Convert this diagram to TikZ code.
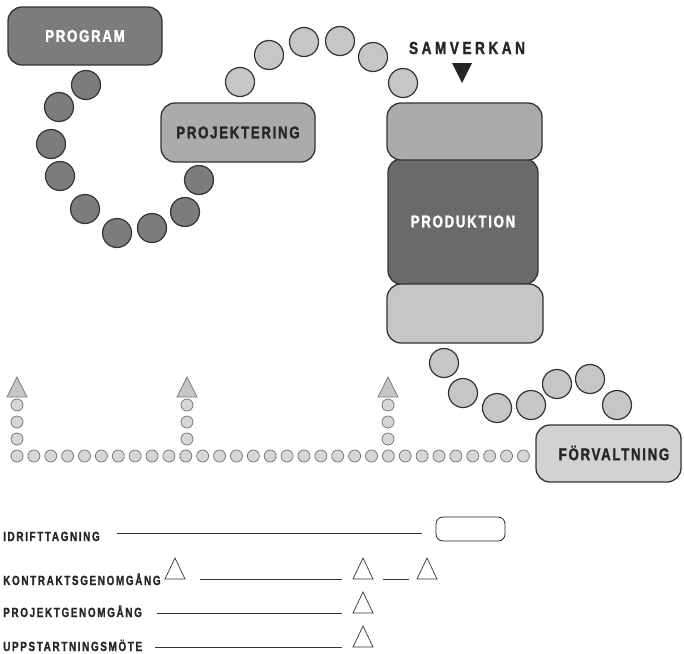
\documentclass[tikz,border=0pt]{standalone}
\usepackage{fontspec}
\newfontfamily\labf{Liberation Sans}[FakeStretch=0.78, LetterSpace=10, BoldFeatures={FakeBold=1.5}]
\newfontfamily\samf{Liberation Sans}[FakeStretch=0.78, LetterSpace=20, BoldFeatures={FakeBold=1.5}]
\newfontfamily\legf{Liberation Sans}[FakeStretch=0.75, LetterSpace=12, BoldFeatures={FakeBold=1.2}]
\usetikzlibrary{calc}
\definecolor{edge}{HTML}{333333}
\definecolor{darkfill}{HTML}{7C7C7C}
\definecolor{midfill}{HTML}{ABABAB}
\definecolor{prodfill}{HTML}{6A6A6A}
\definecolor{lightfill}{HTML}{C6C6C6}
\definecolor{palefill}{HTML}{D2D2D2}
\definecolor{dotfill}{HTML}{D6D6D6}
\definecolor{dotedge}{HTML}{7A7A7A}
\tikzset{
  bigbox/.style={draw=edge, line width=1.3pt, rounded corners=14pt, inner sep=0pt},
  bigtext/.style={font=\labf\bfseries\fontsize{17}{17}\selectfont},
  darkdot/.style={circle, draw=edge, line width=1.2pt, fill=darkfill, minimum size=29pt, inner sep=0pt},
  lightdot/.style={circle, draw=edge, line width=1.2pt, fill=lightfill, minimum size=29pt, inner sep=0pt},
  smalldot/.style={circle, draw=dotedge, line width=0.8pt, fill=dotfill, minimum size=12pt, inner sep=0pt},
  gtri/.style={draw=dotedge, line width=0.8pt, fill=lightfill},
  otri/.style={draw=black!80, line width=0.7pt, fill=white},
  legtext/.style={font=\legf\bfseries\fontsize{13.3}{13.3}\selectfont, anchor=base west, inner sep=0pt, text=black!85},
  legline/.style={draw=black!80, line width=0.8pt}
}
\begin{document}
\begin{tikzpicture}[x=1pt,y=-1pt]
\useasboundingbox (0,0) rectangle (684,653);
% dark circles from PROGRAM to PROJEKTERING
\foreach \n/\x/\y in {1/86/85, 2/59/107, 3/51/144, 4/60/176, 5/85/209, 6/117/233, 7/152/228, 8/185/212, 9/199/180}
  \node[darkdot] (d\n) at (\x,\y) {};
% light circles from PROJEKTERING to SAMVERKAN
\foreach \n/\x/\y in {1/240/82, 2/269/55, 3/304/42, 4/340/41, 5/373/57, 6/403/83}
  \node[lightdot] (l\n) at (\x,\y) {};
% light circles from production to FORVALTNING
\foreach \n/\x/\y in {1/444/363, 2/463/393, 3/497/408, 4/531/405, 5/557/384, 6/590/379, 7/617/405}
  \node[lightdot] (f\n) at (\x,\y) {};
% boxes
\node[bigbox, fill=darkfill, minimum width=154pt, minimum height=58pt, bigtext, text=white] (program) at (85,36) {PROGRAM};
\node[bigbox, fill=midfill, minimum width=154pt, minimum height=59pt, bigtext, text=black!85] (projektering) at (238,132.5) {PROJEKTERING};
\node[bigbox, fill=prodfill, minimum width=150pt, minimum height=126pt, bigtext, text=white] (produktion) at (463,221.5) {PRODUKTION};
\node[bigbox, fill=midfill, minimum width=155pt, minimum height=57pt] (topbox) at (464.5,131.5) {};
\node[bigbox, fill=lightfill, minimum width=156pt, minimum height=59pt] (botbox) at (465,313.5) {};
\node[bigbox, fill=palefill, minimum width=145pt, minimum height=57pt] (forvaltning) at (608.5,453.5) {};
\node[bigtext, text=black!85, inner sep=0pt] (forvtext) at (614,453) {FÖRVALTNING};
% samverkan
\node[font=\samf\bfseries\fontsize{17.5}{17.5}\selectfont, text=black!85, inner sep=0pt] (samverkan) at (467,48) {SAMVERKAN};
\fill[black!85] (452,63) -- (472,63) -- (462,83) -- cycle;
% small dots row
\foreach \i in {0,...,30}
  \node[smalldot] (r\i) at ({17+16.88*\i},456) {};
% columns
\foreach \c/\x in {a/17, b/187, c/388}{
  \foreach \j/\y in {1/405, 2/422, 3/439}
    \node[smalldot] (\c\j) at (\x,\y) {};
  \filldraw[gtri] (\x-10,397) -- (\x+10,397) -- (\x,377) -- cycle;
}
% legend
\node[legtext] (idr) at (3,541) {IDRIFTTAGNING};
\node[legtext] (kon) at (3,585) {KONTRAKTSGENOMGÅNG};
\node[legtext] (pro) at (3,617) {PROJEKTGENOMGÅNG};
\node[legtext] (upp) at (3,651) {UPPSTARTNINGSMÖTE};
\coordinate (i1) at (117,533); \coordinate (i2) at (422,533);
\draw[legline] (i1) -- (i2);
\node[draw=black!85, line width=0.8pt, rounded corners=7pt, minimum width=69pt, minimum height=24pt, inner sep=0pt] (idrbox) at (470.5,529) {};
\coordinate (k1) at (200,579); \coordinate (k2) at (342,579);
\coordinate (k3) at (383,579); \coordinate (k4) at (409,579);
\draw[legline] (k1) -- (k2);
\draw[legline] (k3) -- (k4);
\coordinate (p1) at (157,613); \coordinate (p2) at (342,613);
\draw[legline] (p1) -- (p2);
\coordinate (u1) at (155,647); \coordinate (u2) at (342,647);
\draw[legline] (u1) -- (u2);
\foreach \x/\b in {175/579, 363/579, 427/579, 363/613, 363/647}
  \filldraw[otri] (\x-10,\b) -- (\x+10,\b) -- (\x,\b-21) -- cycle;
\end{tikzpicture}
\end{document}
